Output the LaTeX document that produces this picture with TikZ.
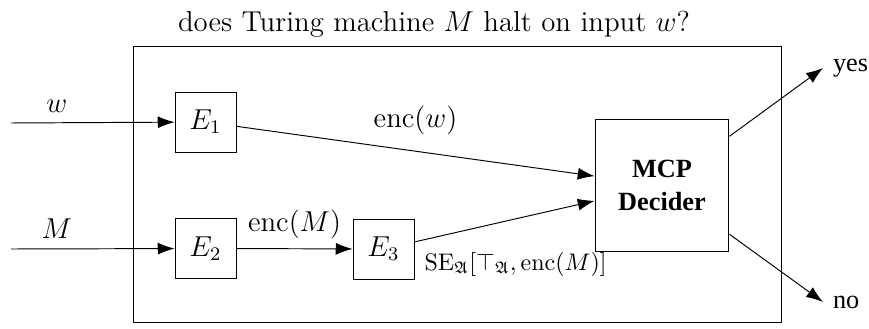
\documentclass[tikz,border=0pt,12pt]{standalone}
\usepackage{amssymb}
\usepackage{fontspec}
\usepackage{tikz}
\usetikzlibrary{positioning, arrows.meta, calc}
\newfontfamily\sidefont{Liberation Serif}

\begin{document}
\begin{tikzpicture}[x=0.4167pt, y=-0.4167pt, >={Latex[length=7pt, width=5pt]},
    encbox/.style={draw, minimum width=25.4pt, minimum height=25pt, inner sep=0pt},
    decbox/.style={draw, minimum width=55.8pt, minimum height=55.4pt, align=center,
                   font=\sidefont\small\bfseries}]
    \useasboundingbox (0,0) rectangle (869,329);

    \node (title) at (434,24) {does Turing machine $M$ halt on input $w$?};
    \node[draw, minimum width=270.4pt, minimum height=115.4pt] (frame) at (457.5,184.5) {};

    % encoders and decider
    \node[encbox] (E1) at (205.5,122) {$E_1$};
    \node[encbox] (E2) at (205.5,248.5) {$E_2$};
    \node[encbox] (E3) at (383.5,249) {$E_3$};
    \node[decbox] (dec) at (662,185.5) {MCP\\Decider};

    \coordinate (win) at (11,123);
    \coordinate (min) at (11,249);
    \coordinate (yes) at (823,68);
    \coordinate (no) at (823,302);

    \draw[->] (win) -- node[pos=.28, above] {$w$} (E1);
    \draw[->] (min) -- node[pos=.28, above] {$M$} (E2);
    \draw[->] (E1) -- node[above=2.5pt] {$\mathrm{enc}(w)$} (dec);
    \draw[->] (E2) -- node[above] {$\mathrm{enc}(M)$} (E3);
    \draw[->] (E3) -- node[pos=0, below right, font=\footnotesize]
        {$\mathrm{SE}_{\mathfrak{A}}[\top_{\mathfrak{A}}, \mathrm{enc}(M)]$} (dec);
    \draw[->] (dec) -- (yes) node[right, font=\sidefont\small] {yes};
    \draw[->] (dec) -- (no) node[right, font=\sidefont\small] {no};
\end{tikzpicture}
\end{document}
